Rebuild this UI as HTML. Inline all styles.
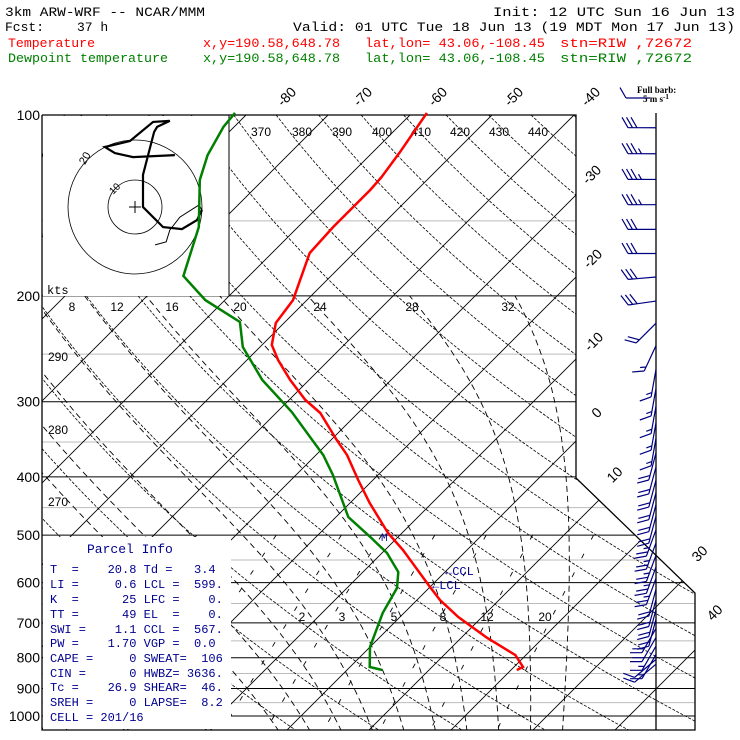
<!DOCTYPE html>
<html><head><meta charset="utf-8"><style>
html,body{margin:0;padding:0;background:#fff;}
svg{display:block;}
.mono{font-family:"Liberation Mono",monospace;}
</style></head><body>
<svg id="chart" width="740" height="740" viewBox="0 0 740 740" xmlns="http://www.w3.org/2000/svg">
<defs>
<clipPath id="plotclip"><polygon points="42,115 576,115 576,478 695,593 695,730 42,730"/></clipPath>
</defs>
<g id="grid" clip-path="url(#plotclip)"></g>
<rect x="43" y="116" width="186" height="180" fill="#fff"/>
<rect x="43" y="537" width="188" height="192" fill="#fff"/>
<line x1="229" y1="115" x2="229" y2="296" stroke="#000" stroke-width="1"/>
<g id="hodo"></g>
<polyline points="42,115 576,115 576,478 695,593 695,730 42,730 42,115" fill="none" stroke="#000" stroke-width="1.3"/>
<g id="labels"></g>
<g id="profiles"></g>
<g id="barbs"></g>

<g class="mono" font-size="13">
<text x="5" y="16" textLength="200" lengthAdjust="spacingAndGlyphs">3km ARW-WRF -- NCAR/MMM</text>
<text x="493" y="16" textLength="242" lengthAdjust="spacingAndGlyphs">Init: 12 UTC Sun 16 Jun 13</text>
<text x="5" y="31">Fcst:</text>
<text x="77" y="31">37 h</text>
<text x="293" y="31" textLength="442" lengthAdjust="spacingAndGlyphs">Valid: 01 UTC Tue 18 Jun 13 (19 MDT Mon 17 Jun 13)</text>
<g fill="#ff0000">
<text x="8" y="47" textLength="87" lengthAdjust="spacingAndGlyphs">Temperature</text>
<text x="203" y="47" textLength="137" lengthAdjust="spacingAndGlyphs">x,y=190.58,648.78</text>
<text x="365" y="47" textLength="180" lengthAdjust="spacingAndGlyphs">lat,lon= 43.06,-108.45</text>
<text x="560" y="47" textLength="132" lengthAdjust="spacingAndGlyphs">stn=RIW ,72672</text>
</g>
<g fill="#008000">
<text x="8" y="62" textLength="160" lengthAdjust="spacingAndGlyphs">Dewpoint temperature</text>
<text x="203" y="62" textLength="137" lengthAdjust="spacingAndGlyphs">x,y=190.58,648.78</text>
<text x="365" y="62" textLength="180" lengthAdjust="spacingAndGlyphs">lat,lon= 43.06,-108.45</text>
<text x="560" y="62" textLength="132" lengthAdjust="spacingAndGlyphs">stn=RIW ,72672</text>
</g>
</g>

<g class="mono" font-size="12" fill="#000090">
<text x="87" y="553" font-size="13">Parcel Info</text>
<text x="50" y="573">T&#160;&#160;=&#160;&#160;&#160;&#160;20.8&#160;Td&#160;=&#160;&#160;&#160;3.4</text>
<text x="50" y="588">LI&#160;=&#160;&#160;&#160;&#160;&#160;0.6&#160;LCL&#160;=&#160;&#160;599.</text>
<text x="50" y="603">K&#160;&#160;=&#160;&#160;&#160;&#160;&#160;&#160;25&#160;LFC&#160;=&#160;&#160;&#160;&#160;0.</text>
<text x="50" y="618">TT&#160;=&#160;&#160;&#160;&#160;&#160;&#160;49&#160;EL&#160;&#160;=&#160;&#160;&#160;&#160;0.</text>
<text x="50" y="633">SWI&#160;=&#160;&#160;&#160;&#160;1.1&#160;CCL&#160;=&#160;&#160;567.</text>
<text x="50" y="647">PW&#160;=&#160;&#160;&#160;&#160;1.70&#160;VGP&#160;=&#160;&#160;0.0</text>
<text x="50" y="662">CAPE&#160;=&#160;&#160;&#160;&#160;&#160;0&#160;SWEAT=&#160;&#160;106</text>
<text x="50" y="677">CIN&#160;=&#160;&#160;&#160;&#160;&#160;&#160;0&#160;HWBZ=&#160;3636.</text>
<text x="50" y="691">Tc&#160;=&#160;&#160;&#160;&#160;26.9&#160;SHEAR=&#160;&#160;46.</text>
<text x="50" y="706">SREH&#160;=&#160;&#160;&#160;&#160;&#160;0&#160;LAPSE=&#160;&#160;8.2</text>
<text x="50" y="721">CELL&#160;=&#160;201/16</text>
</g>
<g class="mono" font-size="12" fill="#000090">
<text x="381" y="541" font-size="11">M</text>
<text x="445" y="575">←CCL</text>
<text x="432" y="589">←LCL</text>
</g>
<g font-family="Liberation Serif,serif" font-weight="bold" font-size="9">
<text x="637" y="93">Full barb:</text>
<text x="643" y="102">5 m s<tspan dy="-3" font-size="7">-1</tspan></text>
</g>
</svg>
<script>
// ---- data ----
const tempP  = [99.2,115.2,126.8,133.3,153.6,169.7,203.2,221.9,241.4,255.7,276.0,298.0,313.2,347.4,368.0,404.9,442.2,496.1,529.5,610.0,641.2,684.3,741.7,791.7,828.9,838.4];
const tempC  = [-58.2,-56.7,-55.9,-55.7,-55.7,-55.4,-51.7,-51.0,-48.8,-46.2,-42.3,-38.0,-34.6,-29.3,-26.2,-21.8,-17.6,-11.7,-7.8,0.0,2.8,7.1,13.2,18.7,21.1,20.7];
const dewP   = [99.2,104.7,116.6,128.3,153.6,185.3,203.2,221.0,243.2,276.0,312.0,368.0,397.2,466.6,503.6,535.5,576.0,612.5,674.0,767.7,828.9,838.4];
const dewC   = [-81.6,-81.3,-79.8,-77.7,-72.1,-68.0,-62.4,-55.5,-52.1,-45.7,-38.2,-29.1,-25.5,-18.5,-13.4,-9.4,-5.7,-3.9,-2.6,0.0,2.4,4.3];
const windP  = [105,116,128,141,155,170,186,204,222,242,265,285,305,325,345,365,385,405,425,445,465,490,515,540,565,590,615,640,665,690,715,740,765,790,805,820];
const windDir= [270,270,270,270,270,270,265,262,225,205,190,190,190,190,190,195,195,195,195,195,195,200,200,200,200,200,195,195,195,195,210,210,210,210,230,230];
const windSpd= [15,17.5,17.5,17.5,15,15,15,15,10,7.5,7.5,7.5,7.5,7.5,7.5,10,10,10,10,10,10,12.5,12.5,12.5,12.5,12.5,10,10,10,10,10,10,7.5,7.5,5,5];
const hodoThinU=[6,9.3,10.4,13.4,19.1];
const hodoThinV=[-11.3,-10.4,-6.9,-3,0.6];
const hodoU=[20,18.5,14,8.4,2.4,2.4,5.7,6.6,10.4,5.4,-1.5,-9,-6,-0.6,11.9];
const hodoV=[-0.9,-3.9,-6.6,-6,0,9.6,22.4,23.9,25.7,25.4,19.7,17.9,16.1,14.9,15.5];
const pLevels=[100,200,300,400,500,600,700,800,900,1000];
const pMinor=[150,250,350,450,550,650,750,850,950];
const isoTemps=[-120,-110,-100,-90,-80,-70,-60,-50,-40,-30,-20,-10,0,10,20,30,40,50];
const thetas=[250,260,270,280,290,300,310,320,330,340,350,360,370,380,390,400,410,420,430,440,450,460,470];
const thetaW=[-4,0,4,8,12,16,20,24,28,32];
const mixR=[0.4,1,2,3,5,8,12,20];

(function(){
const NS="http://www.w3.org/2000/svg";
function Y(p){return 115+261*Math.log(p/100);}
function X(T,p){return 771+8.2*(T+30)-Y(p);}
function mk(tag,attrs,parent){const e=document.createElementNS(NS,tag);for(const k in attrs)e.setAttribute(k,attrs[k]);parent.appendChild(e);return e;}
function poly(pts){return pts.map(q=>q[0].toFixed(1)+","+q[1].toFixed(1)).join(" ");}
const grid=document.getElementById('grid');
const PTOP=100,PBOT=1060;

pMinor.forEach(p=>{const l=mk('line',{x1:42,x2:700,y1:Y(p),y2:Y(p),stroke:'#bbbbbb','stroke-width':1},grid);

});
pLevels.forEach(p=>{const l=mk('line',{x1:42,x2:700,y1:Y(p),y2:Y(p),stroke:'#000','stroke-width':1},grid);

});
isoTemps.forEach(T=>{const l=mk('line',{x1:X(T,PTOP),y1:Y(PTOP),x2:X(T,PBOT),y2:Y(PBOT),stroke:'#000','stroke-width':0.9},grid);

});
thetas.forEach(th=>{const pts=[];for(let p=PTOP;p<=PBOT;p+=10){const T=th*Math.pow(p/1000,0.2857)-273.15;pts.push([X(T,p),Y(p)]);}
const l=mk('polyline',{points:poly(pts),fill:'none',stroke:'#000','stroke-width':0.8,'stroke-dasharray':'3,1.5'},grid);

});
function es(T){return 6.112*Math.exp(17.67*T/(T+243.5));}
function moist(tw){const pts=[];let T=tw+273.15;const Rd=287,cp=1004,Lv=2.5e6;
 function step(p,dp){const Tc=T-273.15;const e=es(Tc);const rs=0.622*e/(p-e);
  const d=(Rd*T+Lv*rs)/(p*(cp+Lv*Lv*rs*0.622/(Rd*T*T)));T+=d*dp;}
 for(let p=1000;p>=200;p-=2){pts.push([X(T-273.15,p),Y(p)]);step(p,-2);}
 T=tw+273.15;const low=[];for(let p=1000;p<=PBOT;p+=2){low.push([X(T-273.15,p),Y(p)]);step(p,2);}
 return low.reverse().concat(pts);}
thetaW.forEach(tw=>{const l=mk('polyline',{points:poly(moist(tw)),fill:'none',stroke:'#000','stroke-width':0.9,'stroke-dasharray':'6,4'},grid);

});
mixR.forEach(w=>{const pts=[];for(let p=500;p<=PBOT;p+=10){const e=w/1000*p/(0.622+w/1000);const lg=Math.log(e/6.112);const Td=243.5*lg/(17.67-lg);pts.push([X(Td,p),Y(p)]);}
const l=mk('polyline',{points:poly(pts),fill:'none',stroke:'#000','stroke-width':0.9,'stroke-dasharray':'5,16'},grid);

});

const lab=document.getElementById('labels');
pLevels.forEach(p=>{const t=mk('text',{x:40,y:Y(p)+5,'text-anchor':'end','font-size':14,'font-family':'Liberation Sans, sans-serif'},lab);t.textContent=p;

});
function rlab(txt,x,y,rot,fs){const t=mk('text',{x:x,y:y,'text-anchor':'middle','font-size':fs||13,'font-family':'Liberation Sans, sans-serif',transform:'rotate('+rot+' '+x+' '+y+')'},lab);t.textContent=txt;

}
[['-80',290,100],['-70',366,100],['-60',441,100],['-50',517,100],['-40',594,100],['-30',595,178],['-20',596,262],['-10',597,345],['0',600,416],['10',618,478],['30',703,557],['40',718,616]].forEach(a=>rlab(a[0],a[1],a[2],-45,14));
[['370',261,136],['380',302,136],['390',342,136],['400',382,136],['410',421,136],['420',460,136],['430',499,136],['440',538,136],['290',58,361],['280',58,434],['270',58,506]].forEach(a=>rlab(a[0],a[1],a[2],0,12));
[['8',72,311],['12',117,311],['16',172,311],['20',240,311],['24',320,311],['28',412,311],['32',508,311]].forEach(a=>rlab(a[0],a[1],a[2],0,12));
[['2',302,621],['3',342,621],['5',394,621],['8',443,621],['12',487,621],['20',545,621]].forEach(a=>rlab(a[0],a[1],a[2],0,12));
const kt=mk('text',{x:47,y:294,'font-size':12,'font-family':'Liberation Mono, monospace'},lab);kt.textContent='kts';

const hodo=document.getElementById('hodo');
const HX=135,HY=207,HS=3.35;
[27,67].forEach(r=>{const c=mk('circle',{cx:HX,cy:HY,r:r,fill:'none',stroke:'#000','stroke-width':0.8},hodo);

});
mk('path',{d:'M'+(HX-6)+','+HY+' h12 M'+HX+','+(HY-6)+' v12',stroke:'#000','stroke-width':1},hodo);
rlab('20',88,160,-60,11);rlab('10',117,191,-45,10);
const thin=hodoThinU.map((u,i)=>[HX+u*HS,HY-hodoThinV[i]*HS]);
const thick=hodoU.map((u,i)=>[HX+u*HS,HY-hodoV[i]*HS]);
const h1=mk('polyline',{points:poly(thin.concat([thick[0]])),fill:'none',stroke:'#000','stroke-width':1},hodo);


const h2=mk('polyline',{points:poly(thick),fill:'none',stroke:'#000','stroke-width':2.2},hodo);



const prof=document.getElementById('profiles');
const tl=mk('polyline',{points:poly(tempP.map((p,i)=>[X(tempC[i],p),Y(p)])),fill:'none',stroke:'#ff0000','stroke-width':2.5},prof);


const dl=mk('polyline',{points:poly(dewP.map((p,i)=>[X(dewC[i],p),Y(p)])),fill:'none',stroke:'#008000','stroke-width':2.5},prof);



const bg=document.getElementById('barbs');
const ax=mk('line',{x1:656,y1:113,x2:656,y2:730,stroke:'#000','stroke-width':1.3},bg);


function barb(x0,y0,dir,spd,L){const r=dir*Math.PI/180;const ux=Math.sin(r),uy=-Math.cos(r);
 const ex=x0+ux*L,ey=y0+uy*L;let d='M'+x0+','+y0+' L'+ex.toFixed(1)+','+ey.toFixed(1);
 const a=Math.PI/3;const bx=Math.cos(a)*ux-Math.sin(a)*uy,by=Math.sin(a)*ux+Math.cos(a)*uy;
 const n=Math.floor(spd/5),half=(spd%5)>=2.5;let k=0;
 for(let i=0;i<n;i++){const px=ex-ux*k*4.5,py=ey-uy*k*4.5;d+=' M'+px.toFixed(1)+','+py.toFixed(1)+' l'+(bx*12).toFixed(1)+','+(by*12).toFixed(1);k++;}
 if(half){const px=ex-ux*k*4.5,py=ey-uy*k*4.5;d+=' M'+px.toFixed(1)+','+py.toFixed(1)+' l'+(bx*6).toFixed(1)+','+(by*6).toFixed(1);}
 return d;}
windP.forEach((p,i)=>{const b=mk('path',{d:barb(656,Y(p),windDir[i],windSpd[i],28),fill:'none',stroke:'#000080','stroke-width':1.2},bg);

});
const kb=mk('path',{d:barb(650,98,270,5,24),fill:'none',stroke:'#000080','stroke-width':1.2},bg);


})();
</script>
</body></html>
